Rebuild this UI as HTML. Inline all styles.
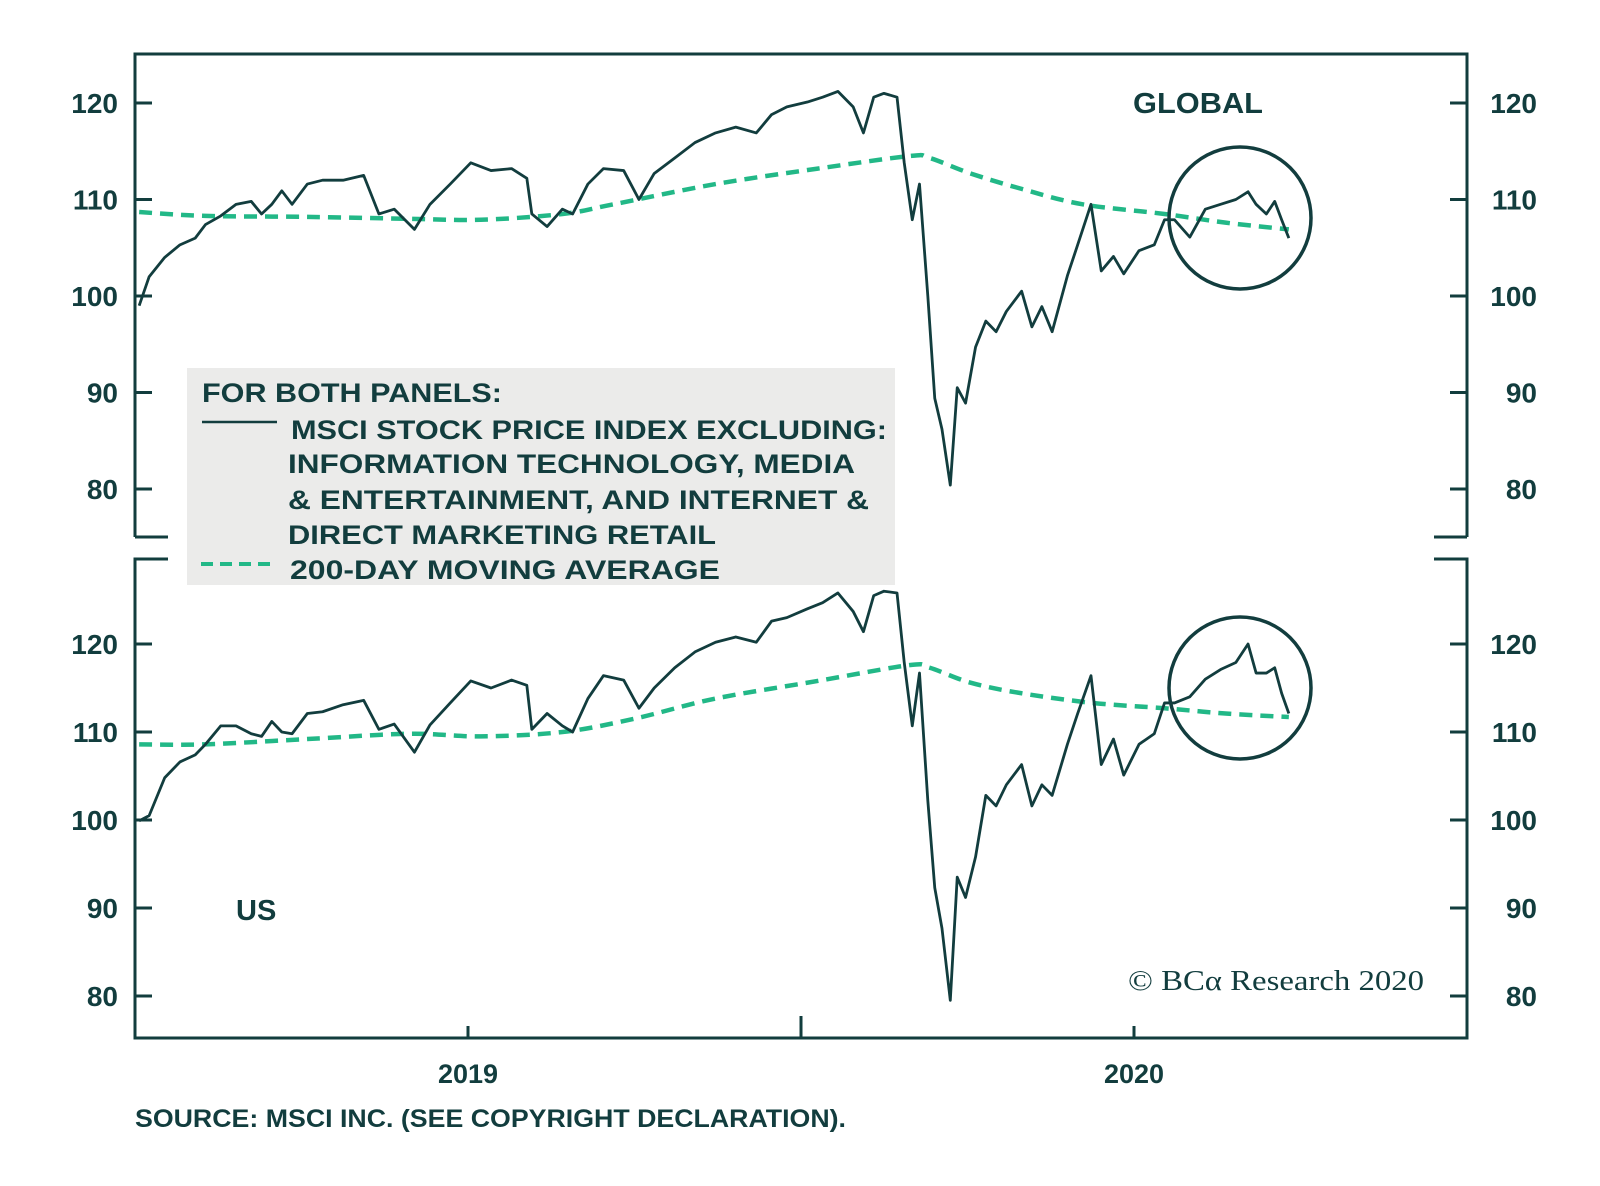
<!DOCTYPE html>
<html><head><meta charset="utf-8"><style>
html,body{margin:0;padding:0;background:#fff;}
svg{display:block;font-family:"Liberation Sans",sans-serif;}
</style></head><body>
<svg id="chart" width="1600" height="1186" viewBox="0 0 1600 1186" xmlns="http://www.w3.org/2000/svg">
<rect width="1600" height="1186" fill="#fff"/>
<g id="frame" stroke="#123d3e" stroke-width="3" fill="none">
 <polyline points="135,537 135,54 1467,54 1467,537"/>
 <line x1="135" y1="537" x2="168" y2="537"/>
 <line x1="1434" y1="537" x2="1467" y2="537"/>
 <polyline points="168,559 135,559 135,1038 1467,1038 1467,559 1434,559"/>
</g>
<g id="axes"></g>
<g id="series"></g>
<rect x="187" y="368" width="708" height="217" fill="#ebebea"/>
<g fill="#123d3e" font-weight="bold" font-size="27">
 <text x="202" y="402" textLength="300" lengthAdjust="spacingAndGlyphs">FOR BOTH PANELS:</text>
 <line x1="202" y1="422" x2="277" y2="422" stroke="#123d3e" stroke-width="2.5"/>
 <text x="291" y="439" textLength="596" lengthAdjust="spacingAndGlyphs">MSCI STOCK PRICE INDEX EXCLUDING:</text>
 <text x="288" y="473" textLength="567" lengthAdjust="spacingAndGlyphs">INFORMATION TECHNOLOGY, MEDIA</text>
 <text x="288" y="509" textLength="581" lengthAdjust="spacingAndGlyphs">&amp; ENTERTAINMENT, AND INTERNET &amp;</text>
 <text x="288" y="544" textLength="428" lengthAdjust="spacingAndGlyphs">DIRECT MARKETING RETAIL</text>
 <line x1="201" y1="564" x2="272" y2="564" stroke="#22b887" stroke-width="4" stroke-dasharray="12,7"/>
 <text x="290" y="579" textLength="430" lengthAdjust="spacingAndGlyphs">200-DAY MOVING AVERAGE</text>
</g>
<text x="1133" y="113" font-size="29" font-weight="bold" fill="#123d3e" textLength="130" lengthAdjust="spacingAndGlyphs">GLOBAL</text>
<text x="236" y="920" font-size="29" font-weight="bold" fill="#123d3e">US</text>
<text x="1128" y="990" font-family="Liberation Serif,serif" font-size="28" fill="#123d3e" textLength="296" lengthAdjust="spacingAndGlyphs">© BCα Research 2020</text>
<text x="135" y="1127" font-size="25" font-weight="bold" fill="#123d3e" textLength="711" lengthAdjust="spacingAndGlyphs">SOURCE: MSCI INC. (SEE COPYRIGHT DECLARATION).</text>
<circle cx="1240" cy="218" r="71" fill="none" stroke="#123d3e" stroke-width="3.5"/>
<circle cx="1240" cy="688" r="71" fill="none" stroke="#123d3e" stroke-width="3.5"/>
</svg>
<script>
// x values in months since chart start
const months = [0.15,0.51,1.07,1.62,2.17,2.54,3.09,3.64,4.19,4.56,4.93,5.29,5.66,6.21,6.76,7.5,8.24,8.79,9.34,10.07,10.63,11.36,12.1,12.83,13.57,14.12,14.3,14.85,15.4,15.77,16.32,16.88,17.61,18.16,18.71,19.45,20.18,20.92,21.65,22.39,22.94,23.49,24.23,24.78,25.33,25.88,26.25,26.62,26.99,27.46,27.72,28.01,28.27,28.57,28.82,29.08,29.38,29.63,29.93,30.29,30.66,31.03,31.4,31.95,32.32,32.68,33.05,33.6,33.97,34.45,34.82,35.26,35.63,36.18,36.73,37.1,37.46,38.01,38.57,39.12,39.67,40.11,40.4,40.77,41.07,41.32,41.58];
const globalPrice = [99,102,104,105.3,106,107.4,108.3,109.5,109.8,108.5,109.5,110.9,109.5,111.6,112,112,112.5,108.5,109,106.9,109.5,111.6,113.8,113,113.2,112.2,108.5,107.2,109,108.5,111.6,113.2,113,110,112.7,114.3,115.9,116.9,117.5,116.9,118.8,119.6,120.1,120.6,121.2,119.6,116.9,120.6,121,120.6,113.8,107.9,111.6,100,89.4,86.2,80.4,90.5,88.9,94.7,97.4,96.3,98.4,100.5,96.8,98.9,96.3,102.1,105.3,109.5,102.6,104.1,102.3,104.7,105.3,107.9,107.9,106.1,109,109.5,110,110.8,109.5,108.5,109.8,107.9,106];
const usPrice = [99.9,100.5,104.8,106.6,107.4,108.6,110.7,110.7,109.8,109.5,111.2,110,109.8,112.1,112.3,113.1,113.6,110.3,110.9,107.7,110.8,113.3,115.8,115,115.9,115.3,110.3,112.1,110.7,110,113.8,116.4,115.9,112.7,115,117.3,119.1,120.2,120.8,120.2,122.6,123,124,124.7,125.8,123.7,121.4,125.5,126,125.8,117.9,110.7,116.7,102.2,92.3,87.7,79.5,93.5,91.2,95.8,102.8,101.6,104,106.3,101.6,104,102.8,108.6,112.1,116.4,106.3,109.2,105.1,108.6,109.8,113.3,113.3,114,116,117.1,117.9,120,116.7,116.7,117.3,114.4,112.1];
const globalMaMonths = [0.15,2.54,6.21,9.89,12.46,15.4,17.24,20.92,24.6,27.9,28.64,30.11,31.95,34.15,37.1,39.3,41.58];
const globalMa = [108.7,108.3,108.2,108,107.9,108.5,109.5,111.6,113.2,114.5,114.3,112.7,111.1,109.5,108.5,107.6,106.9];
const usMaMonths = [0.15,2.54,6.21,9.89,12.46,15.4,17.98,20.92,24.6,27.9,28.64,30.11,31.95,34.52,37.1,39.3,41.58];
const usMa = [108.6,108.6,109.2,109.8,109.5,110,111.5,113.8,115.8,117.6,117.3,115.6,114.4,113.3,112.7,112.1,111.7];
const yTicks = [80,90,100,110,120];
const xTickMonths = [12,24,36];
const xTickLabels = ["2019","","2020"];

const NS="http://www.w3.org/2000/svg";
const xS = m => 135 + m*(1332/48);
const yTop = v => 103 + (120-v)*9.65;
const yBot = v => 996 - (v-80)*8.8;
const axes=document.getElementById('axes'), series=document.getElementById('series');
function mk(tag, attrs, parent){const e=document.createElementNS(NS,tag);for(const k in attrs)e.setAttribute(k,attrs[k]);parent.appendChild(e);return e;}
function smoothPath(xs, ys){
  const p=xs.map((m,i)=>[xS(m),ys[i]]);
  let d=`M${p[0][0]},${p[0][1]}`;
  for(let i=0;i<p.length-1;i++){
    const p0=p[Math.max(0,i-1)],p1=p[i],p2=p[i+1],p3=p[Math.min(p.length-1,i+2)];
    const c1=[p1[0]+(p2[0]-p0[0])/6,p1[1]+(p2[1]-p0[1])/6];
    const c2=[p2[0]-(p3[0]-p1[0])/6,p2[1]-(p3[1]-p1[1])/6];
    d+=` C${c1[0]},${c1[1]} ${c2[0]},${c2[1]} ${p2[0]},${p2[1]}`;
  }
  return d;
}
[[yTop,'top'],[yBot,'bottom']].forEach(([ys,name])=>{
  yTicks.forEach(v=>{
    const y=ys(v);
    const t1=mk('line',{x1:135,y1:y,x2:152,y2:y,stroke:'#123d3e','stroke-width':3},axes);
    
    
    const t2=mk('line',{x1:1450,y1:y,x2:1467,y2:y,stroke:'#123d3e','stroke-width':3},axes);
    
    
    const l=mk('text',{x:118,y:y+10,'text-anchor':'end','font-size':28,'font-weight':'bold',fill:'#123d3e'},axes);
    l.textContent=v;
    
    
    const r=mk('text',{x:1537,y:y+10,'text-anchor':'end','font-size':28,'font-weight':'bold',fill:'#123d3e'},axes);
    r.textContent=v;
    
    
  });
});
xTickMonths.forEach((m,i)=>{
  const x=xS(m);
  const t=mk('line',{x1:x,y1:1038,x2:x,y2:i===1?1016:1026,stroke:'#123d3e','stroke-width':3},axes);
  
  
  if(xTickLabels[i]){
    const l=mk('text',{x:x,y:1083,'text-anchor':'middle','font-size':27,'font-weight':'bold',fill:'#123d3e'},axes);
    l.textContent=xTickLabels[i];
    
    
  }
});
const ma1=mk('path',{d:smoothPath(globalMaMonths,globalMa.map(yTop)),fill:'none',stroke:'#22b887','stroke-width':4.5,'stroke-dasharray':'13,8'},series);


const ma2=mk('path',{d:smoothPath(usMaMonths,usMa.map(yBot)),fill:'none',stroke:'#22b887','stroke-width':4.5,'stroke-dasharray':'13,8'},series);


const p1=mk('polyline',{points:months.map((m,i)=>xS(m)+','+yTop(globalPrice[i])).join(' '),fill:'none',stroke:'#123d3e','stroke-width':2.8,'stroke-linejoin':'round'},series);


const p2=mk('polyline',{points:months.map((m,i)=>xS(m)+','+yBot(usPrice[i])).join(' '),fill:'none',stroke:'#123d3e','stroke-width':2.8,'stroke-linejoin':'round'},series);


</script>
</body></html>
